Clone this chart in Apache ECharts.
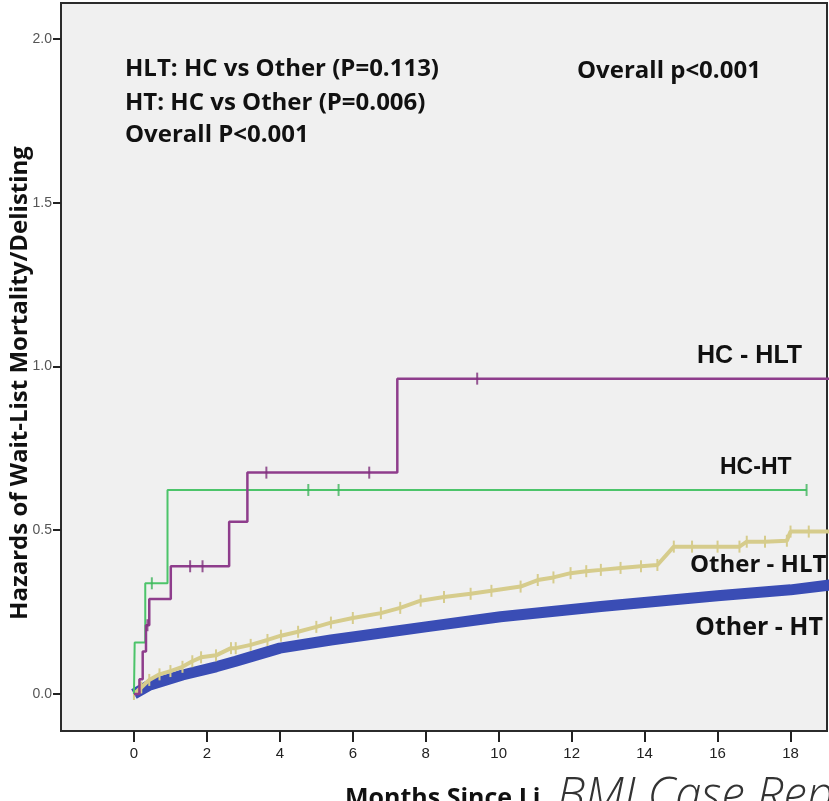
<!DOCTYPE html>
<html>
<head>
<meta charset="utf-8">
<script src="https://cdn.jsdelivr.net/npm/echarts@6/dist/echarts.min.js"></script>
<style>
html, body { margin: 0; padding: 0; background: #fff; }
#main { width: 829px; height: 801px; }
</style>
</head>
<body>
<div id="main"></div>
<script>
// tick labels
var xTicks = [0, 2, 4, 6, 8, 10, 12, 14, 16, 18];
var yTicks = [0, 0.5, 1.0, 1.5, 2.0];

// HC - HLT (purple), steps
var hcHltT = [0, 0.15, 0.24, 0.33, 0.42, 1.01, 2.61, 3.11, 7.22, 19.1];
var hcHltH = [0, 0.045, 0.13, 0.21, 0.29, 0.39, 0.526, 0.676, 0.963, 0.963];
var hcHltCensT = [0.37, 1.54, 1.88, 3.63, 6.45, 9.41];
var hcHltCensH = [0.21, 0.39, 0.39, 0.676, 0.676, 0.963];

// HC - HT (green), steps
var hcHtT = [0, 0.02, 0.31, 0.92, 18.44];
var hcHtH = [0, 0.157, 0.338, 0.623, 0.623];
var hcHtCensT = [0.49, 4.78, 5.61, 18.44];
var hcHtCensH = [0.338, 0.623, 0.623, 0.623];

// Other - HLT (khaki), censored points
var otHltT = [0, 0.2, 0.42, 0.7, 1.0, 1.33, 1.6, 1.84, 2.25, 2.66, 2.79, 3.2, 3.66, 4.03, 4.5, 5.0, 5.4, 6.0, 6.77, 7.3, 7.86, 8.5, 9.23, 9.8, 10.6, 11.07, 11.5, 11.97, 12.4, 12.8, 13.34, 13.9, 14.35, 14.8, 15.3, 16.0, 16.6, 16.8, 17.3, 17.9, 18.0, 18.5, 19.1];
var otHltH = [0, 0.02, 0.043, 0.06, 0.07, 0.083, 0.1, 0.112, 0.118, 0.14, 0.14, 0.15, 0.165, 0.178, 0.19, 0.205, 0.218, 0.232, 0.247, 0.263, 0.285, 0.296, 0.306, 0.315, 0.328, 0.348, 0.356, 0.369, 0.375, 0.379, 0.385, 0.39, 0.394, 0.45, 0.45, 0.45, 0.45, 0.465, 0.465, 0.468, 0.496, 0.496, 0.496];

// Other - HT (blue)
var otHtT = [0, 0.42, 1.33, 2.25, 2.79, 4.0, 5.4, 8.0, 10.05, 12.8, 16, 18, 19.1];
var otHtH = [0, 0.027, 0.058, 0.083, 0.1, 0.14, 0.165, 0.205, 0.236, 0.267, 0.3, 0.318, 0.333];

var xMin = -2, xMax = 19;
var yMin = -0.113, yMax = 2.11;

function pairs(t, h) {
	var out = [];
	for (var i = 0; i < t.length; i++) out.push([t[i], h[i]]);
	return out;
}

var boldFont = '"Open Sans", sans-serif';
var frameColor = '#2b2b2b';

var myChart = echarts.init(document.getElementById('main'));
var option = {
	animation: false,
	grid: {
		left: 61,
		top: 3,
		right: 2,
		bottom: 70,
		containLabel: false,
		outerBoundsMode: 'none',
		show: true,
		backgroundColor: '#f0f0f0',
		borderColor: frameColor,
		borderWidth: 2
	},
	xAxis: {
		type: 'value',
		min: xMin,
		max: xMax,
		splitLine: { show: false },
		axisLine: { show: true, onZero: false, lineStyle: { color: frameColor, width: 2 } },
		axisTick: { show: false },
		axisLabel: {
			customValues: xTicks,
			color: '#222',
			fontFamily: 'Liberation Sans, Arial, sans-serif',
			fontSize: 15,
			margin: 15
		}
	},
	yAxis: {
		type: 'value',
		min: yMin,
		max: yMax,
		splitLine: { show: false },
		axisLine: { show: true, onZero: false, lineStyle: { color: frameColor, width: 2 } },
		axisTick: { show: false },
		axisLabel: {
			customValues: yTicks,
			color: '#555',
			fontFamily: 'Liberation Sans, Arial, sans-serif',
			fontSize: 14,
			margin: 9,
			formatter: function (v) { return v.toFixed(1); }
		}
	},
	series: [
		{
			name: 'Other - HT',
			type: 'line',
			data: pairs(otHtT, otHtH),
			showSymbol: false,
			lineStyle: { color: '#3a4db5', width: 11 },
			z: 2
		},
		{
			name: 'Other - HLT',
			type: 'line',
			data: pairs(otHltT, otHltH),
			symbol: 'rect',
			symbolSize: [2, 12],
			itemStyle: { color: '#d6cc8c' },
			lineStyle: { color: '#d6cc8c', width: 4 },
			z: 3
		},
		{
			name: 'HC-HT',
			type: 'line',
			step: 'end',
			data: pairs(hcHtT, hcHtH),
			showSymbol: false,
			lineStyle: { color: '#4cc46a', width: 2 },
			z: 4
		},
		{
			type: 'scatter',
			data: pairs(hcHtCensT, hcHtCensH),
			symbol: 'rect',
			symbolSize: [2, 12],
			itemStyle: { color: '#3fb45c' },
			z: 4
		},
		{
			name: 'HC - HLT',
			type: 'line',
			step: 'end',
			data: pairs(hcHltT, hcHltH),
			showSymbol: false,
			lineStyle: { color: '#8e3d8c', width: 2.5 },
			z: 5
		},
		{
			type: 'scatter',
			data: pairs(hcHltCensT, hcHltCensH),
			symbol: 'rect',
			symbolSize: [2, 12],
			itemStyle: { color: '#7e2f7c' },
			z: 5
		}
	]
};
myChart.setOption(option);

// axis ticks outside the frame (placed with the chart's own scales) on their own layer, then texts
var graphics = [];
xTicks.forEach(function (v) {
	var p = myChart.convertToPixel({ gridIndex: 0 }, [v, yMin]);
	graphics.push({ type: 'rect', zlevel: 1, z: 20, shape: { x: Math.round(p[0]) - 1, y: Math.round(p[1]), width: 2, height: 11 }, style: { fill: '#222' } });
});
yTicks.forEach(function (v) {
	var p = myChart.convertToPixel({ gridIndex: 0 }, [xMin, v]);
	graphics.push({ type: 'rect', zlevel: 1, z: 20, shape: { x: Math.round(p[0]) - 8, y: Math.round(p[1]) - 1, width: 8, height: 2 }, style: { fill: '#222' } });
});
graphics = graphics.concat([
	{ type: 'text', x: 20, y: 383, rotation: Math.PI / 2, style: { text: 'Hazards of Wait-List Mortality/Delisting', font: 'bold 24px ' + boldFont, fill: '#111', align: 'center', verticalAlign: 'middle' } },
	{ type: 'text', left: 125, top: 57, style: { text: 'HLT: HC vs Other (P=0.113)', font: 'bold 24px ' + boldFont, fill: '#111' } },
	{ type: 'text', left: 125, top: 91, style: { text: 'HT: HC vs Other (P=0.006)', font: 'bold 24px ' + boldFont, fill: '#111' } },
	{ type: 'text', left: 125, top: 123, style: { text: 'Overall P<0.001', font: 'bold 24px ' + boldFont, fill: '#111' } },
	{ type: 'text', left: 577, top: 59, style: { text: 'Overall p<0.001', font: 'bold 24px ' + boldFont, fill: '#111' } },
	{ type: 'text', left: 697, top: 344, style: { text: 'HC - HLT', font: 'bold 25px Liberation Sans, Arial, sans-serif', fill: '#111' } },
	{ type: 'text', left: 720, top: 456, style: { text: 'HC-HT', font: 'bold 23px Liberation Sans, Arial, sans-serif', fill: '#111' } },
	{ type: 'text', left: 690, top: 553, style: { text: 'Other - HLT', font: 'bold 24px ' + boldFont, fill: '#111' } },
	{ type: 'text', left: 695, top: 615, style: { text: 'Other - HT', font: 'bold 25px ' + boldFont, fill: '#111' } },
	{ type: 'text', left: 345, top: 786, style: { text: 'Months Since Li', font: 'bold 25px ' + boldFont, fill: '#111' } },
	{ type: 'text', left: 557, top: 774, style: { text: 'BMJ Case Rep', font: 'italic 300 47px ' + boldFont, fill: '#333' } }
]);
myChart.setOption({ graphic: graphics });
</script>
</body>
</html>
